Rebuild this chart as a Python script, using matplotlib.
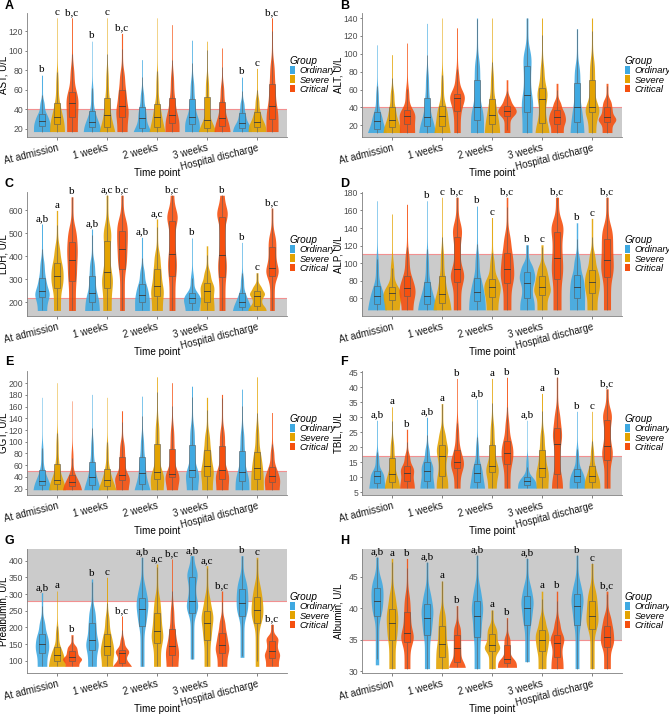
import math
import numpy as np
import matplotlib
matplotlib.use('Agg')
import matplotlib.pyplot as plt
from matplotlib.patches import Patch, Rectangle

plt.rcParams['font.family'] = ['Liberation Sans', 'DejaVu Sans']

timepoints = ['At admission', '1 weeks', '2 weeks', '3 weeks', 'Hospital discharge']
groups = ['Ordinary', 'Severe', 'Critical']
colors = ['#3FA9E1', '#E3A302', '#F5500F']

# each row: lowest, q1, median, q3, highest  (order: time point, then group)
ast = [(17, 22.5, 28, 35.5, 75), (17, 24.5, 32, 46, 134), (17, 32, 46, 58, 134),
       (17, 22, 27, 38, 110), (17, 22, 34, 52, 134), (17, 32, 43, 60, 118),
       (17, 21, 31, 42, 91), (17, 22, 32, 45, 134), (17, 26, 34, 52, 127),
       (17, 25, 32, 50, 111), (17, 21, 29, 53, 110), (17, 23, 31, 47, 103),
       (17, 21, 26, 36, 73), (17, 22, 27, 37, 82), (17, 30, 43, 66, 134)]
ast_lab = ['b', 'c', 'b,c', 'b', 'c', 'b,c', '', '', '', '', '', '', 'b', 'c', 'b,c']

alt = [(12, 16, 25, 35, 110), (12, 18, 26, 40, 99), (12, 21, 31, 37, 112),
       (12, 19, 29, 51, 134), (12, 19, 31, 42, 140), (12, 36, 51, 55, 129),
       (12, 26, 40, 71, 140), (12, 21, 32, 49, 140), (12, 31, 36, 42, 71),
       (12, 35, 54, 86, 140), (12, 23, 49, 62, 140), (12, 22, 29, 37, 67),
       (12, 24, 40, 67, 128), (12, 35, 40, 71, 140), (12, 24, 29, 40, 67)]
alt_lab = [''] * 15

ldh = [(165, 223, 248, 307, 541), (165, 263, 317, 373, 600), (165, 292, 385, 464, 659),
       (165, 200, 241, 317, 519), (165, 263, 332, 468, 666), (165, 344, 434, 512, 666),
       (165, 200, 234, 278, 483), (165, 226, 273, 347, 563), (165, 314, 410, 556, 666),
       (165, 197, 219, 241, 480), (165, 204, 248, 285, 446), (165, 310, 405, 571, 666),
       (165, 182, 204, 241, 461), (165, 185, 226, 248, 329), (165, 314, 351, 439, 610)]
ldh_lab = ['a,b', 'a', 'b', 'a,b', 'a,c', 'b,c', 'a,b', 'a,c', 'b,c', 'b', '', 'b', 'b', 'c', 'b,c']

alp = [(47, 53.5, 62.7, 74, 171), (47, 58, 65.8, 72.7, 156), (47, 62.7, 71.5, 85, 167),
       (47, 54, 62.7, 79, 171), (47, 55, 65, 85, 175), (47, 79, 93, 130, 175),
       (47, 57, 67.7, 83, 165), (47, 62, 72.7, 82, 152), (47, 77, 93, 112, 175),
       (47, 60, 78, 89.5, 121), (47, 64, 73.4, 85.7, 121), (47, 82, 106, 135, 175),
       (47, 60, 72.7, 87, 146), (47, 66.5, 79, 92, 151), (47, 84, 104, 127, 175)]
alp_lab = ['', '', '', 'b', 'c', 'b,c', 'b', 'c', 'b,c', 'b', 'c', 'b,c', 'b', 'c', 'b,c']

ggt = [(18, 25.7, 33, 51, 176), (18, 27, 35, 62, 201), (18, 24, 31, 43, 170),
       (18, 25.7, 40, 65, 181), (18, 24, 35, 54, 176), (18, 34, 43, 74, 153),
       (18, 27, 47, 74, 178), (18, 37, 48, 96, 211), (18, 39, 45, 88, 201),
       (18, 39, 52, 94, 195), (18, 41, 58, 86, 176), (18, 37, 51, 92, 181),
       (18, 33, 48, 84, 190), (18, 37, 56, 82, 211), (18, 31, 41, 57, 150)]
ggt_lab = [''] * 15

tbil = [(6.3, 8, 10.2, 12.1, 29), (6.3, 8.3, 11, 16.5, 33.5), (6.3, 8.6, 11.5, 13.8, 26),
        (6.3, 8.8, 12.1, 14.9, 30), (6.3, 10.5, 17, 20.9, 34.6), (6.3, 13.2, 14.9, 19.2, 43),
        (6.3, 8.3, 11.2, 14.3, 36), (6.3, 11.6, 13.6, 20.9, 43), (6.3, 14.3, 18.2, 22, 43.4),
        (6.3, 7.5, 8.8, 9.9, 29), (6.3, 10, 13, 18.9, 38), (6.3, 11, 21.2, 26.4, 43.4),
        (6.3, 8.3, 10.2, 12.7, 32), (6.3, 8.3, 10.2, 13.8, 32), (6.3, 15.6, 20.3, 29, 39.5)]
tbil_lab = ['a,b', 'a', 'b', 'a,b', 'a', 'b', 'a,b', 'a', 'b', 'a,b', 'a', 'b', 'b', 'c', 'b,c']

pre = [(83, 123, 150, 180, 304), (83, 98, 116, 140, 309), (83, 100, 110, 130, 178),
       (83, 133, 163, 214, 345), (83, 118, 143, 180, 350), (83, 93, 123, 133, 234),
       (83, 204, 254, 289, 410), (83, 153, 189, 244, 390), (83, 118, 143, 194, 405),
       (105, 244, 279, 350, 415), (83, 163, 214, 249, 385), (83, 123, 148, 184, 309),
       (110, 234, 274, 314, 415), (83, 214, 251, 291, 410), (83, 108, 128, 158, 209)]
pre_lab = ['a,b', 'a', 'b', 'b', 'c', 'b,c', 'a,b', 'a,c', 'b,c', 'a,b', 'a,c', 'b,c', 'b', 'c', 'b,c']

alb = [(31, 38.7, 41.1, 43.2, 48.1), (30.4, 34.9, 37.6, 39.9, 47.9), (30.4, 34.7, 36, 39.4, 47.9),
       (30.4, 35.7, 38.5, 40.6, 47.3), (30.4, 32.3, 34.3, 37.2, 44.3), (30.6, 31.5, 33.6, 35.8, 40.4),
       (30.4, 35.4, 38.8, 41.1, 48.4), (30.4, 33.2, 34.1, 35.9, 39.7), (30.6, 31.3, 32.0, 34.1, 38.5),
       (31.5, 37.3, 40, 41.9, 47.9), (30.4, 33.2, 35, 36.5, 42.7), (30.4, 32.2, 34.5, 35.8, 42.7),
       (30.4, 37.3, 40.3, 42.2, 48.4), (30.4, 36.7, 38.7, 41.1, 47.1), (30.4, 33.8, 35.4, 37.2, 42.7)]
alb_lab = ['a,b', 'a', 'b', 'a,b', 'a', 'b', 'a,b', 'a', 'b', 'a,b', 'a', 'b', 'b', 'c', 'b,c']

# panel settings: letter, data, labels, y label, ylim, yticks, normal limit, band below limit?
panels = [
    ('A', ast, ast_lab, 'AST, U/L', (11.4, 139), np.arange(20, 121, 20), 40, True),
    ('B', alt, alt_lab, 'ALT, U/L', (7, 145.6), np.arange(20, 141, 20), 40, True),
    ('C', ldh, ldh_lab, 'LDH, U/L', (141, 680), np.arange(200, 601, 100), 220, True),
    ('D', alp, alp_lab, 'ALP, U/L', (40, 181), np.arange(60, 181, 20), 110, True),
    ('E', ggt, ggt_lab, 'GGT, U/L', (9, 221), np.arange(20, 201, 20), 50, True),
    ('F', tbil, tbil_lab, 'TBIL, U/L', (4, 45.5), np.arange(5, 46, 5), 17.1, True),
    ('G', pre, pre_lab, 'Prealbumin, U/L', (63, 435), np.arange(100, 401, 50), 280, False),
    ('H', alb, alb_lab, 'Albumin, U/L', (29.7, 49.4), np.arange(30, 46, 5), 35, False),
]

phi = np.vectorize(lambda z: 0.5 * (1 + math.erf(z / math.sqrt(2))))


def profile(lo, q1, med, q3, hi, n=150):
    # smooth density whose quartiles match the box values, trimmed to the range;
    # the upper quarter is split so the tail thins out towards the top
    edges = [lo, q1, med, q3, q3 + 0.35 * (hi - q3), hi]
    mass = [0.25, 0.25, 0.25, 0.18, 0.07]
    s = 0.06 * (hi - lo)
    ys = np.linspace(lo, hi, n)
    dens = np.zeros(n)
    for a, b, m in zip(edges[:-1], edges[1:], mass):
        dens += m / max(b - a, 1e-6) * (phi((ys - a) / s) - phi((ys - b) / s))
    dens = dens / (phi((ys - lo) / s) - phi((ys - hi) / s))
    return ys, dens


fig = plt.figure(figsize=(6.69, 7.14), dpi=100)
lefts = [27 / 669, 362 / 669]
bottoms = [1 - 137 / 714, 1 - 316 / 714, 1 - 495 / 714, 1 - 673 / 714]
letter_y = [6, 184, 362, 541]
w, h = 260 / 669, 124 / 714

for i, (letter, data, labs, ylab, ylim, yticks, limit, below) in enumerate(panels):
    row, col = i // 2, i % 2
    ax = fig.add_axes([lefts[col], bottoms[row], w, h])
    ax.set_xlim(0.4, 5.6)
    ax.set_ylim(*ylim)
    # normal range band
    if below:
        ax.axhspan(ylim[0], limit, color='#CBCBCB', lw=0, zorder=0)
    else:
        ax.axhspan(limit, ylim[1], color='#CBCBCB', lw=0, zorder=0)
    ax.axhline(limit, color='#F29090', lw=0.8, zorder=0.5)

    shapes = [profile(*v) for v in data]
    peak = max(d.max() for _, d in shapes)
    for k, (lo, q1, med, q3, hi) in enumerate(data):
        t, g = k // 3, k % 3
        x = t + 1 + (g - 1) * 0.3
        ys, d = shapes[k]
        half = 0.19 * (d.max() / peak) ** 0.4 * d / d.max()
        ax.fill_betweenx(ys, x - half, x + half, color=colors[g], alpha=0.9, lw=0, zorder=2)
        iqr = q3 - q1
        ax.vlines(x, max(lo, q1 - 1.5 * iqr), q1, color='#5A5A5A', lw=0.4, zorder=3)
        ax.vlines(x, q3, min(hi, q3 + 1.5 * iqr), color='#5A5A5A', lw=0.4, zorder=3)
        ax.add_patch(Rectangle((x - 0.055, q1), 0.11, iqr, fc=colors[g], ec='#5A5A5A', lw=0.4, zorder=3))
        ax.plot([x - 0.055, x + 0.055], [med, med], color='#3A3A3A', lw=0.6, zorder=4)
        if labs[k]:
            ax.annotate(labs[k], (x, hi), xytext=(0, 0.5), textcoords='offset points',
                        ha='center', va='bottom', fontsize=8, family='Liberation Serif',
                        annotation_clip=False)

    ax.set_xticks(np.arange(1, 6))
    ax.set_xticklabels(timepoints, rotation=14, ha='right', rotation_mode='anchor',
                       fontsize=7, color='#1A1A1A')
    ax.set_yticks(yticks)
    ax.tick_params(axis='y', labelsize=6.2, colors='#4D4D4D', length=1.5, width=0.5, pad=1.2)
    ax.tick_params(axis='x', length=2, width=0.5, pad=2, color='#4D4D4D')
    for sp in ['top', 'right']:
        ax.spines[sp].set_visible(False)
    for sp in ['left', 'bottom']:
        ax.spines[sp].set_color('#7F7F7F')
        ax.spines[sp].set_linewidth(0.6)
    ax.set_ylabel(ylab, fontsize=7)
    ax.yaxis.set_label_coords(-0.07, 0.5)
    ax.set_xlabel('Time point', fontsize=7.2)
    ax.xaxis.set_label_coords(0.5, -0.25)

    handles = [Patch(fc=c, ec='none') for c in colors]
    ax.legend(handles, groups, title='Group', loc='center left', bbox_to_anchor=(1.0, 0.5),
              frameon=False, prop={'style': 'italic', 'size': 6.8},
              title_fontproperties={'style': 'italic', 'size': 7.2},
              handlelength=0.55, handleheight=0.9, handletextpad=0.45,
              labelspacing=0.0, borderpad=0.1, borderaxespad=0.2, alignment='left')

    fig.text(lefts[col] - 22 / 669, 1 - letter_y[row] / 714, letter, fontsize=9,
             fontweight='bold', va='center', ha='left')

fig.savefig('out.png', dpi=100)
